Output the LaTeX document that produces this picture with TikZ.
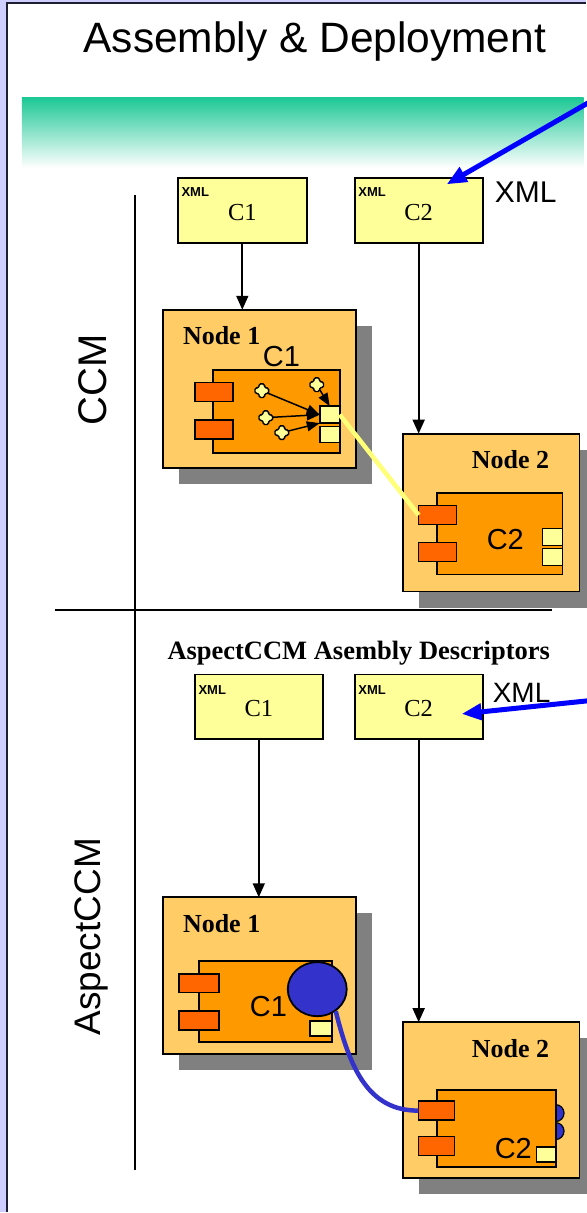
\documentclass[tikz,border=0pt]{standalone}
\usepackage{fontspec}
\setmainfont{Liberation Serif}
\setsansfont{Liberation Sans}
\usetikzlibrary{arrows.meta,shadows,shapes.geometric}

\definecolor{framelav}{RGB}{206,206,255}
\definecolor{framedark}{RGB}{30,30,50}
\definecolor{bandgreen}{RGB}{30,200,150}
\definecolor{xmlyellow}{RGB}{255,255,153}
\definecolor{hostorange}{RGB}{255,204,102}
\definecolor{comporange}{RGB}{255,153,0}
\definecolor{portorange}{RGB}{255,102,0}
\definecolor{aspectblue}{RGB}{51,51,204}
\definecolor{shadowgray}{RGB}{128,128,128}
\definecolor{linkyellow}{RGB}{255,255,120}

\tikzset{
  plainbox/.style={draw=black, line width=1.9pt, inner sep=0pt, outer sep=0pt},
  xmlbox/.style={plainbox, fill=xmlyellow, minimum width=128pt, minimum height=65pt},
  host/.style={plainbox, fill=hostorange,
    drop shadow={shadow xshift=16pt, shadow yshift=-16pt, fill=shadowgray, opacity=1}},
  comp/.style={plainbox, fill=comporange},
  port/.style={plainbox, line width=1.6pt, fill=portorange, minimum height=19pt},
  facet/.style={plainbox, line width=1.6pt, fill=xmlyellow},
  bump/.style={circle, draw=black, line width=1.2pt, fill=aspectblue, minimum size=17pt, inner sep=0pt},
  tag/.style={font=\sffamily\bfseries\fontsize{13}{15}\selectfont, inner sep=0pt, anchor=base west},
  boxname/.style={font=\fontsize{24.5}{28}\selectfont, inner sep=0pt, anchor=base},
  hostname/.style={font=\bfseries\fontsize{26}{30}\selectfont, inner sep=0pt, anchor=base west},
  compname/.style={font=\sffamily\fontsize{29}{34}\selectfont, inner sep=0pt, anchor=base west},
  sidelabel/.style={inner sep=0pt, rotate=90, anchor=base},
  deploy/.style={-{Triangle[length=14pt,width=12pt]}, line width=1.8pt},
  wire/.style={-{Triangle[length=13pt,width=10pt]}, line width=1.5pt},
  bluearrow/.style={-{Triangle[length=20pt,width=16pt]}, line width=5pt, color=blue},
  yellowlink/.style={line width=4.5pt, color=linkyellow},
  aspectlink/.style={line width=4.5pt, color=aspectblue},
  plusmark/.pic={
    \draw[fill=xmlyellow, line width=1.4pt, rounded corners=1.5pt]
      (-2.8,-6.8) -- (2.8,-6.8) -- (2.8,-2.8) -- (6.8,-2.8) -- (6.8,2.8) -- (2.8,2.8)
      -- (2.8,6.8) -- (-2.8,6.8) -- (-2.8,2.8) -- (-6.8,2.8) -- (-6.8,-2.8)
      -- (-2.8,-2.8) -- cycle;
  }
}

\begin{document}
\begin{tikzpicture}[x=1pt,y=-1pt]
% slide frame
\fill[framelav] (0,0) rectangle (586,1213);
\fill[white] (7,3) rectangle (586,1213);
\draw[framedark, line width=2pt] (7,1213) -- (7,3) -- (586,3);
\useasboundingbox (0,0) rectangle (586,1213);

% title and gradient band
\node[font=\sffamily\fontsize{42.5}{50}\selectfont, inner sep=0pt, anchor=base] (title) at (315,53) {Assembly \& Deployment};
\shade[top color=bandgreen, bottom color=white] (22,98) rectangle (584,168);

% section rules and side labels
\draw[line width=2pt] (135,195) -- (135,1171);
\draw[line width=2pt] (55,610) -- (552,610);
\node[sidelabel, font=\sffamily\fontsize{40}{48}\selectfont] (ccm) at (107,380) {CCM};
\node[sidelabel, font=\sffamily\fontsize{37}{44}\selectfont] (aspect) at (101,937.5) {AspectCCM};

% ---------- CCM: descriptors ----------
\node[xmlbox, minimum width=129pt] (xa) at (242.5,210.5) {};
\node[tag] at ([shift={(3.5,19)}]xa.north west) {XML};
\node[boxname] at ([shift={(0,42.5)}]xa.north) {C1};
\node[xmlbox] (xb) at (419,210.5) {};
\node[tag] at ([shift={(3.5,19)}]xb.north west) {XML};
\node[boxname] at ([shift={(0,42.5)}]xb.north) {C2};

% ---------- CCM: node 1 ----------
\node[host, minimum width=193pt, minimum height=158pt] (na) at (259.5,389) {};
\node[hostname] at ([shift={(20,35)}]na.north west) {Node 1};
\node[compname] at (263,367) {C1};
\node[comp, minimum width=127pt, minimum height=83pt] (ca) at (276.5,411.5) {};
\node[port, minimum width=38pt] (pa1) at (214,392.5) {};
\node[port, minimum width=38pt] (pa2) at (214,430) {};
\node[facet, minimum width=20pt, minimum height=17pt] (fa1) at (330,415) {};
\node[facet, minimum width=20pt, minimum height=16pt] (fa2) at (330,434.7) {};
\coordinate (k1) at (262,391);
\coordinate (k2) at (266,418);
\coordinate (k3) at (282,433);
\coordinate (k4) at (317,385);
\draw[wire] (k1) -- (fa1.west);
\draw[wire] (k2) -- (fa1.west);
\draw[wire] (k3) -- (fa1.south west);
\draw[wire] (k4) -- (fa1.north);
\pic at (k1) {plusmark};
\pic at (k2) {plusmark};
\pic at (k3) {plusmark};
\pic at (k4) {plusmark};

% ---------- CCM: node 2 ----------
\node[host, minimum width=177pt, minimum height=158pt] (nb) at (491.5,513) {};
\node[hostname] at ([shift={(69,35)}]nb.north west) {Node 2};
\node[comp, minimum width=126pt, minimum height=82pt] (cb) at (500,534) {};
\node[port, minimum width=38pt] (pb1) at (438,515.5) {};
\node[port, minimum width=38pt] (pb2) at (438,552.5) {};
\node[facet, minimum width=20pt, minimum height=17pt] (fb1) at (553,537.5) {};
\node[facet, minimum width=20pt, minimum height=17pt] (fb2) at (553,557.5) {};
\node[compname] at (487,550) {C2};

% CCM connectors
\draw[deploy] (xa.south) -- (xa.south |- na.north);
\draw[deploy] (xb.south) -- (xb.south |- nb.north);
\draw[yellowlink] (fa1.east) -- (pb1.west);
\node[font=\sffamily\fontsize{30}{36}\selectfont, inner sep=0pt, anchor=base west] (xmla) at (495,203) {XML};
\coordinate (srca) at (592,101);
\draw[bluearrow] (srca) -- ([shift={(28,-26)}]xb.center);

% ---------- AspectCCM: descriptors ----------
\node[font=\bfseries\fontsize{26.5}{30}\selectfont, inner sep=0pt, anchor=base] (desc) at (359,660) {AspectCCM Asembly Descriptors};
\node[xmlbox] (xc) at (259,707.5) {};
\node[tag] at ([shift={(3.5,20)}]xc.north west) {XML};
\node[boxname] at ([shift={(0,42)}]xc.north) {C1};
\node[xmlbox] (xd) at (419,707.5) {};
\node[tag] at ([shift={(3.5,20)}]xd.north west) {XML};
\node[boxname] at ([shift={(0,42)}]xd.north) {C2};

% ---------- AspectCCM: node 1 ----------
\node[host, minimum width=193pt, minimum height=157pt] (nc) at (259.5,976.5) {};
\node[hostname] at ([shift={(20,35)}]nc.north west) {Node 1};
\node[comp, minimum width=133pt, minimum height=81pt] (cc) at (265.5,1002.5) {};
\node[port, minimum width=40pt] (pc1) at (199,984) {};
\node[port, minimum width=40pt] (pc2) at (199,1021.5) {};
\node[facet, minimum width=22pt, minimum height=15pt] (fc) at (321,1029.5) {};
\node[compname] at (250,1017) {C1};
\node[ellipse, draw=black, line width=1.8pt, fill=aspectblue, inner sep=0pt,
      minimum width=59pt, minimum height=54pt] (adv) at (317.5,990) {};

% ---------- AspectCCM: node 2 ----------
\node[host, minimum width=177pt, minimum height=156pt] (nd) at (491.5,1101) {};
\node[hostname] at ([shift={(69,35)}]nd.north west) {Node 2};
\node[bump] (bd1) at (556,1114) {};
\node[bump] (bd2) at (556,1132) {};
\node[comp, minimum width=119pt, minimum height=77pt] (cd) at (496.5,1129.5) {};
\node[port, minimum width=36pt] (pd1) at (437,1111.5) {};
\node[port, minimum width=36pt] (pd2) at (437,1147) {};
\node[facet, minimum width=19pt, minimum height=15pt] (fd) at (546.5,1155.5) {};
\node[compname] at (495,1159) {C2};

% AspectCCM connectors
\draw[deploy] (xc.south) -- (xc.south |- nc.north);
\draw[deploy] (xd.south) -- (xd.south |- nd.north);
\draw[aspectlink] (adv.-50) .. controls (350,1068) and (368,1112) .. (pd1.west);
\node[font=\sffamily\fontsize{28}{34}\selectfont, inner sep=0pt, anchor=base west] (xmlb) at (493,703) {XML};
\coordinate (srcb) at (592,701);
\draw[bluearrow] (srcb) -- ([shift={(43,7)}]xd.center);
\end{tikzpicture}
\end{document}
